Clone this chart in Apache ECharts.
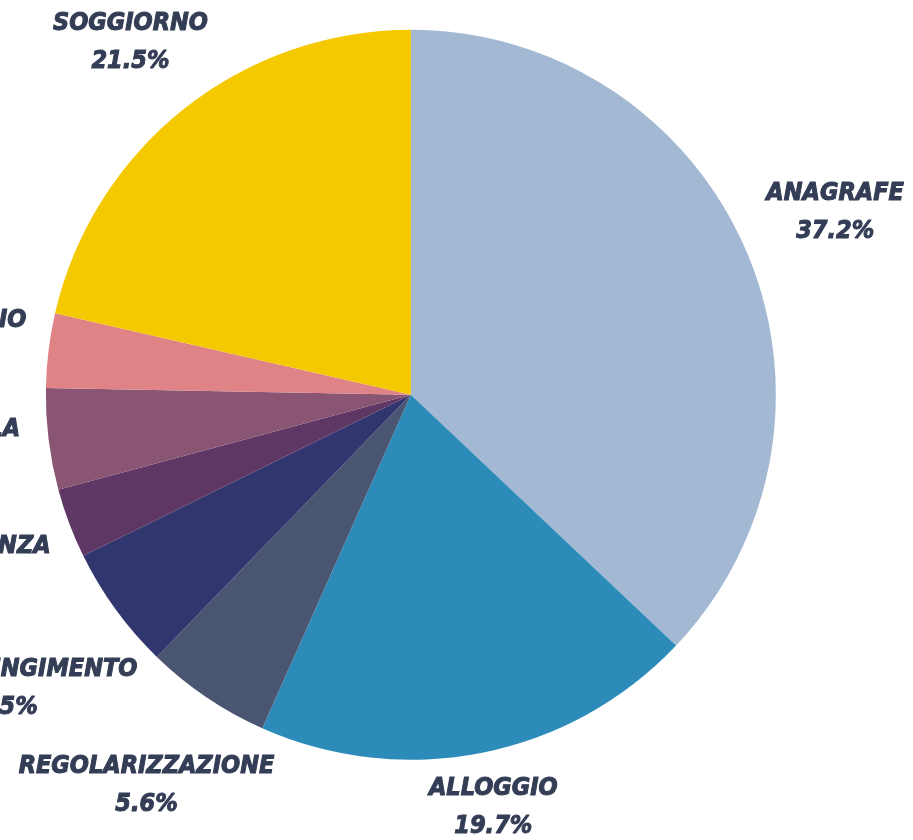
<!DOCTYPE html>
<html lang="it">
<head>
<meta charset="UTF-8">
<title>Pratiche per ambito</title>
<script src="https://cdn.jsdelivr.net/npm/echarts@6/dist/echarts.min.js"></script>
<style>
  html, body { margin: 0; padding: 0; background: #fff; }
  #chart { width: 913px; height: 840px; }
</style>
</head>
<body>
<div id="chart"></div>
<script>
// dati (percentuali)
var categories = ['ANAGRAFE', 'ALLOGGIO', 'REGOLARIZZAZIONE', 'RICONGIUNGIMENTO', 'CITTADINANZA', 'SCUOLA', 'SANITARIO', 'SOGGIORNO'];
var values = [37.2, 19.7, 5.6, 5.5, 3.1, 4.5, 3.3, 21.5];
var colors = ['#a3b8d3', '#2d8bba', '#4a5571', '#32366f', '#5e3765', '#8a5573', '#e08386', '#f5c900'];
// distanza delle etichette dal centro
var labelR = [462, 421, 472, 500, 485, 445, 456, 450];

var W = 913, H = 840;
var cx = W * 0.45, cy = H * 0.47;

var total = values.reduce(function (a, b) { return a + b; }, 0);
function midAngle(i) {
    var s = 0;
    for (var k = 0; k < i; k++) s += values[k];
    return (s + values[i] / 2) / total * 2 * Math.PI;
}

var data = categories.map(function (c, i) {
    return { name: c, value: values[i], itemStyle: { color: colors[i] } };
});

var chart = echarts.init(document.getElementById('chart'));
chart.setOption({
    animation: false,
    series: [{
        type: 'pie',
        center: ['45%', '47%'],
        radius: 365,
        startAngle: 90,
        clockwise: true,
        avoidLabelOverlap: false,
        itemStyle: { borderWidth: 0 },
        labelLine: { show: false },
        label: {
            show: true,
            position: 'outside',
            formatter: function (p) { return p.name + '\n' + p.value.toFixed(1) + '%'; },
            fontFamily: 'DejaVu Sans Condensed',
            fontWeight: 'bold',
            fontStyle: 'oblique',
            fontSize: 25,
            lineHeight: 38,
            color: '#343d56',
            textBorderColor: '#343d56',
            textBorderWidth: 1,
            align: 'center'
        },
        labelLayout: function (p) {
            var a = midAngle(p.dataIndex), r = labelR[p.dataIndex];
            return {
                x: cx + r * Math.sin(a),
                y: cy - r * Math.cos(a),
                align: 'center',
                verticalAlign: 'middle'
            };
        },
        data: data
    }]
});
</script>
</body>
</html>
